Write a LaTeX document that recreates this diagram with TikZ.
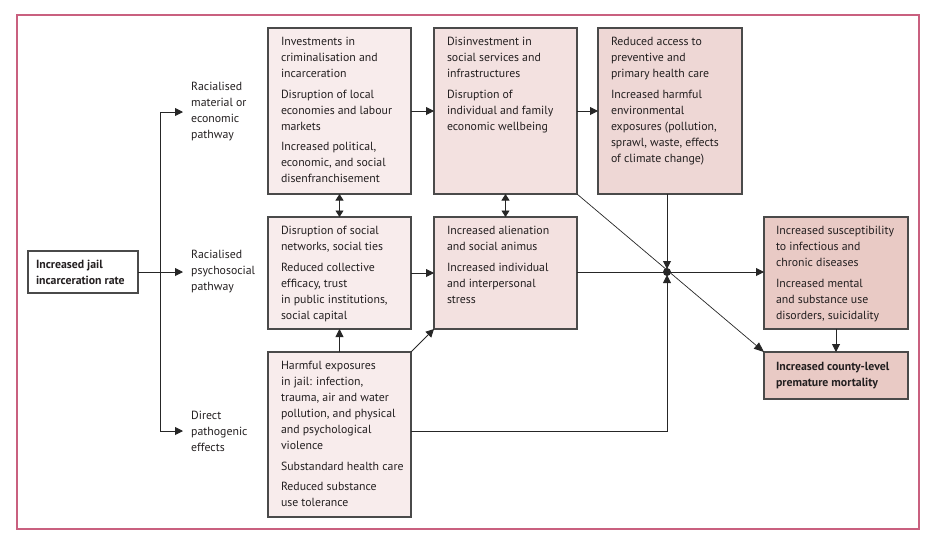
\documentclass[tikz,border=0pt]{standalone}
\usepackage{fontspec}
\setmainfont{PT Sans}
\usetikzlibrary{arrows.meta,calc}
\definecolor{framecol}{HTML}{C9607F}
\definecolor{edgecol}{HTML}{4A4A4A}
\definecolor{linecol}{HTML}{262626}
\definecolor{txtcol}{HTML}{231F20}
\definecolor{fillA}{HTML}{F8ECEC}
\definecolor{fillB}{HTML}{F3E1E0}
\definecolor{fillC}{HTML}{EED7D5}
\definecolor{fillD}{HTML}{E9CAC5}
\newcommand{\gp}{\\[4.5pt]}
\newcommand{\boxtext}[4]{\hspace*{#1pt}\parbox[t][#3pt][t]{#2pt}{\raggedright #4}}
\begin{document}
\begin{tikzpicture}[x=1pt,y=-1pt,
  every node/.style={font=\fontsize{11.8}{16}\selectfont, text=txtcol},
  cbox/.style={draw=edgecol, line width=1.1pt, anchor=north west, inner xsep=0pt, inner ysep=9.5pt, outer sep=0pt},
  lbl/.style={anchor=west, align=left, inner xsep=8pt, inner ysep=0pt},
  arr/.style={draw=linecol, line width=0.9pt, -{Triangle[length=8pt,width=8pt]}},
  darr/.style={draw=linecol, line width=0.9pt, {Triangle[length=6.5pt,width=8pt]}-{Triangle[length=6.5pt,width=8pt]}},
  conn/.style={draw=linecol, line width=0.9pt},
  thin/.style={draw=linecol, line width=0.7pt}
]
\useasboundingbox (0,0) rectangle (936,542);
\draw[framecol, line width=1.3pt] (17,15) rectangle (919,529);

% start
\node[draw=edgecol, fill=white, line width=1.1pt, anchor=north west, minimum width=110pt, minimum height=42pt, inner xsep=8pt, inner ysep=0pt, outer sep=0pt] (start) at (28,251)
  {\parbox{94pt}{\bfseries Increased jail\\ incarceration rate}};

% pathway labels
\node[lbl] (lab1) at (183,112) {Racialised\\ material or\\ economic\\ pathway};
\node[lbl] (lab2) at (183,272) {Racialised\\ psychosocial\\ pathway};
\node[lbl] (lab3) at (183,431) {Direct\\ pathogenic\\ effects};

% column 1
\node[cbox, fill=fillA] (A1) at (268,28) {\boxtext{13}{130}{147}{Investments in\\ criminalisation and\\ incarceration\gp Disruption of local\\ economies and labour\\ markets\gp Increased political,\\ economic, and social\\ disenfranchisement}};
\node[cbox, fill=fillA] (B1) at (268,217) {\boxtext{13}{130}{93}{Disruption of social\\ networks, social ties\gp Reduced collective\\ efficacy, trust\\ in public institutions,\\ social capital}};
\node[cbox, fill=fillA] (C1) at (268,352) {\boxtext{13}{130}{146}{Harmful exposures\\ in jail: infection,\\ trauma, air and water\\ pollution, and physical\\ and psychological\\ violence\gp Substandard health care\gp Reduced substance\\ use tolerance}};

% column 2
\node[cbox, fill=fillB] (A2) at (434,28) {\boxtext{13}{130}{147}{Disinvestment in\\ social services and\\ infrastructures\gp Disruption of\\ individual and family\\ economic wellbeing}};
\node[cbox, fill=fillB] (B2) at (434,217) {\boxtext{13}{130}{93}{Increased alienation\\ and social animus\gp Increased individual\\ and interpersonal\\ stress}};

% column 3
\node[cbox, fill=fillC] (A3) at (598,28) {\boxtext{13}{131}{147}{Reduced access to\\ preventive and\\ primary health care\gp Increased harmful\\ environmental\\ exposures (pollution,\\ sprawl, waste, effects\\ of climate change)}};

% right column
\node[cbox, fill=fillD] (D) at (764,217) {\boxtext{12}{132}{93}{Increased susceptibility\\ to infectious and\\ chronic diseases\gp Increased mental\\ and substance use\\ disorders, suicidality}};
\node[draw=edgecol, fill=fillD, line width=1.1pt, anchor=north west, minimum width=144pt, minimum height=47pt, inner xsep=12pt, inner ysep=0pt, outer sep=0pt] (F) at (764,352)
  {\parbox{120pt}{\bfseries Increased county-level\\ premature mortality}};

% junction
\coordinate (j) at (667,272);
\fill[linecol] (j) circle (4pt);

% branch
\coordinate (br) at (160,272);
\draw[arr] (start.east |- br) -- (lab2.west);
\draw[arr] (br) |- (lab1.west);
\draw[arr] (br) |- (lab3.west);

% connectors
\draw[arr] (A1.east) -- (A2.west);
\draw[arr] (A2.east) -- (A3.west);
\draw[arr] (B1.east) -- (B2.west);
\draw[darr] (A1.south) -- (B1.north);
\draw[darr] (A2.south) -- (B2.north);
\draw[arr] (C1.north) -- (B1.south);
\draw[arr] (C1.north east) -- (B2.south west);
\draw[conn] (B2.east |- j) -- (j);
\draw[arr] (j |- A3.south) -- ($(j)+(0,-3)$);
\coordinate (c1o) at ($(C1.east)+(0,-3)$);
\draw[arr] (c1o) -| ($(j)+(0,3)$);
\draw[arr] (j) -- (D.west |- j);
\draw[thin, -{Triangle[length=10pt,width=8pt]}] (A2.south east) -- (F.north west);
\draw[arr] (D.south) -- (F.north);
\end{tikzpicture}
\end{document}
